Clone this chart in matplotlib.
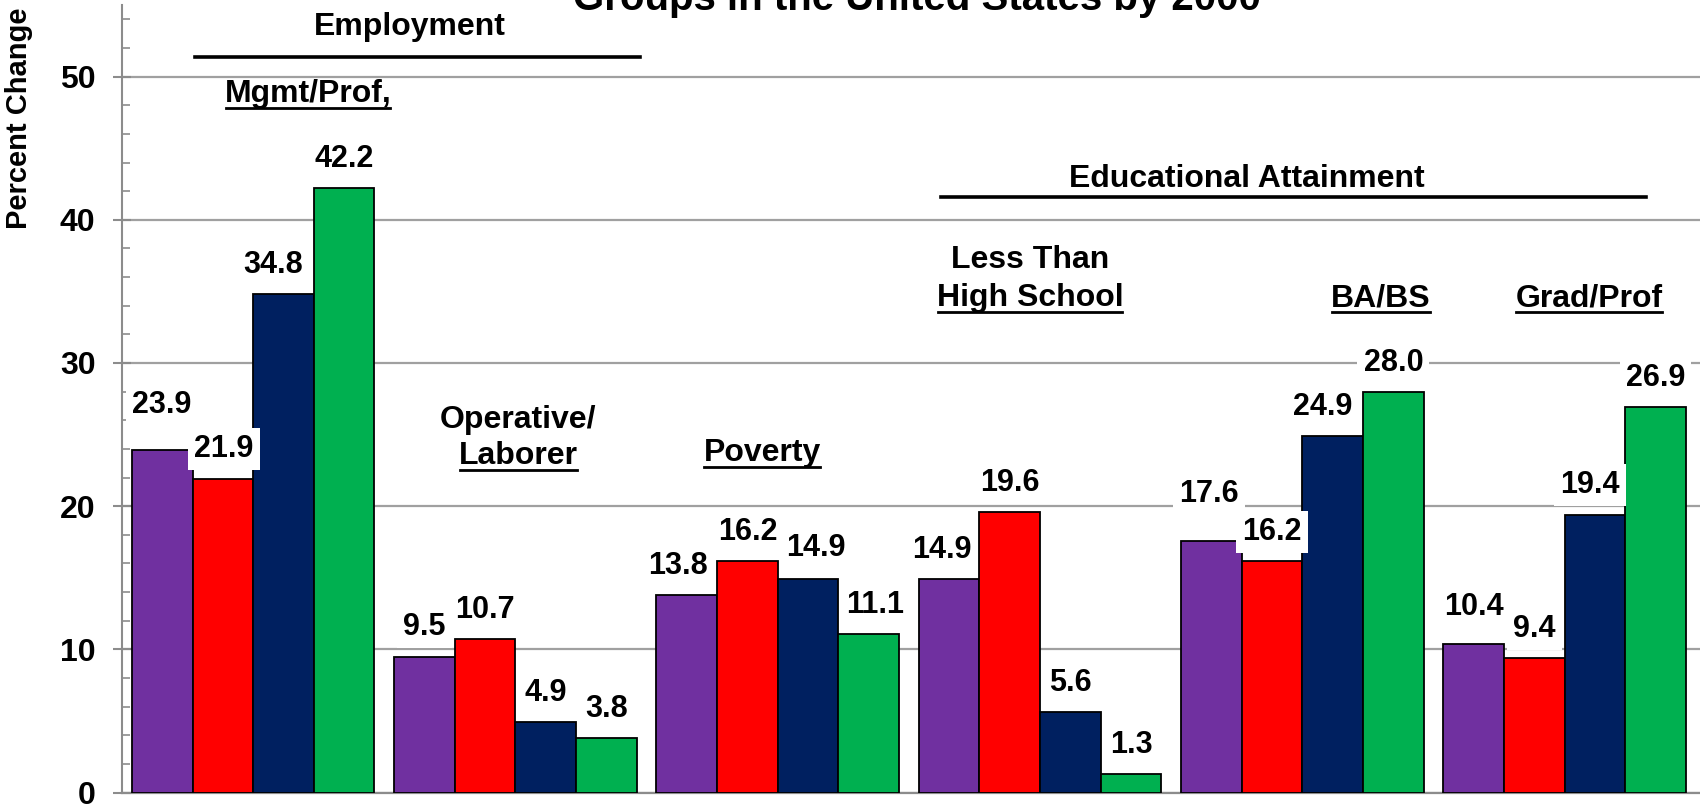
import matplotlib
matplotlib.use("Agg")
import matplotlib.pyplot as plt
from matplotlib.lines import Line2D
from matplotlib.ticker import MultipleLocator
import numpy as np

plt.rcParams['font.family'] = ['Liberation Sans', 'DejaVu Sans']
plt.rcParams['font.weight'] = 'bold'

# ---- data ----
groups = ["Mgmt/Prof,", "Operative/Laborer", "Poverty",
          "Less Than High School", "BA/BS", "Grad/Prof"]
series_1 = [23.9, 9.5, 13.8, 14.9, 17.6, 10.4]
series_2 = [21.9, 10.7, 16.2, 19.6, 16.2, 9.4]
series_3 = [34.8, 4.9, 14.9, 5.6, 24.9, 19.4]
series_4 = [42.2, 3.8, 11.1, 1.3, 28.0, 26.9]
y_ticks = [0, 10, 20, 30, 40, 50]
title_text = "Groups in the United States by 2000"
y_label = "Percent Change"

series = [series_1, series_2, series_3, series_4]
colors = ["#7030A0", "#FF0000", "#002060", "#00B050"]

# label offsets in pixels (dx, dy) for specific labels; default (0, 29)
label_offsets = {
    (0, 0): (0, 45), (0, 1): (1, 30), (0, 2): (-10, 29),
    (1, 0): (0, 30),
    (2, 0): (-9, 29), (2, 2): (8, 31), (2, 3): (6, 29),
    (3, 0): (-7, 29),
    (4, 0): (-2, 47), (4, 2): (-10, 29),
    (5, 0): (0, 37), (5, 2): (-5, 30),
}

fig = plt.figure(figsize=(17, 8.07), dpi=100)
ax = fig.add_axes([122 / 1700, 14.4 / 807, 1578 / 1700, 787.6 / 807])

x = np.arange(len(groups))
w = 0.2312
for i, (vals, c) in enumerate(zip(series, colors)):
    pos = x + (i - 1.5) * w
    ax.bar(pos, vals, width=w, color=c, edgecolor="black", linewidth=1.3, zorder=3)
    for g, (p, v) in enumerate(zip(pos, vals)):
        dx, dy = label_offsets.get((g, i), (0, 29))
        ax.annotate(f"{v:.1f}", xy=(p, v), xytext=(dx, dy), textcoords="offset pixels",
                    ha="center", va="center", fontsize=22, fontweight="bold", zorder=5,
                    bbox=dict(boxstyle="square,pad=0.2", fc="white", ec="none"))

ax.set_xlim(-0.5, -0.5 + 1578 / 262.3)
ax.set_ylim(0, 55)
ax.set_yticks(y_ticks)
ax.set_yticklabels([str(t) for t in y_ticks])
ax.yaxis.set_minor_locator(MultipleLocator(2))
ax.set_xticks([])
ax.tick_params(axis="y", which="major", direction="inout", length=13, width=1.5,
               color="#8C8C8C", labelsize=23, pad=12.5)
ax.tick_params(axis="y", which="minor", direction="in", length=6, width=1.2, color="#8C8C8C")
for lbl in ax.get_yticklabels():
    lbl.set_fontweight("bold")
ax.grid(axis="y", which="major", color="#A0A0A0", linewidth=1.6, zorder=0)
ax.set_axisbelow(True)
for s in ["top", "right"]:
    ax.spines[s].set_visible(False)
ax.spines["left"].set_color("#8C8C8C")
ax.spines["left"].set_linewidth(1.5)
ax.spines["bottom"].set_color("#8C8C8C")
ax.spines["bottom"].set_linewidth(1.6)

# title (cropped at top in the reference)
fig.text(917 / 1700, 1 - 10 / 807, title_text, ha="center", va="baseline",
         fontsize=29, fontweight="bold")
fig.text(19.5 / 1700, 1 - 118 / 807, y_label, rotation=90, ha="center", va="center",
         fontsize=21, fontweight="bold")

# heading annotations
fs = 23
ax.text(0.598, 53.45, "Employment", ha="center", va="center", fontsize=fs, fontweight="bold")
ax.plot([-0.222, 1.475], [51.4, 51.4], color="black", lw=2.6, clip_on=False)
ax.text(3.789, 42.86, "Educational Attainment", ha="center", va="center", fontsize=fs, fontweight="bold")
ax.plot([2.622, 5.31], [41.57, 41.57], color="black", lw=2.6, clip_on=False)

underlined = []
underlined.append(ax.text(0.209, 48.76, "Mgmt/Prof,", ha="center", va="center", fontsize=fs, fontweight="bold"))
ax.text(1.010, 26.05, "Operative/", ha="center", va="center", fontsize=fs, fontweight="bold")
underlined.append(ax.text(1.010, 23.48, "Laborer", ha="center", va="center", fontsize=fs, fontweight="bold"))
underlined.append(ax.text(1.940, 23.70, "Poverty", ha="center", va="center", fontsize=fs, fontweight="bold"))
ax.text(2.962, 37.18, "Less Than", ha="center", va="center", fontsize=fs, fontweight="bold")
underlined.append(ax.text(2.962, 34.53, "High School", ha="center", va="center", fontsize=fs, fontweight="bold"))
underlined.append(ax.text(4.30, 34.53, "BA/BS", ha="center", va="center", fontsize=fs, fontweight="bold"))
underlined.append(ax.text(5.093, 34.53, "Grad/Prof", ha="center", va="center", fontsize=fs, fontweight="bold"))

fig.canvas.draw()
r = fig.canvas.get_renderer()
inv = fig.transFigure.inverted()
for t in underlined:
    bb = t.get_window_extent(renderer=r)
    (x0, y0), (x1, _) = inv.transform([(bb.x0 + 1, bb.y0 + 1), (bb.x1 - 1, bb.y0 + 1)])
    fig.add_artist(Line2D([x0, x1], [y0, y0], color="black", lw=2.0, transform=fig.transFigure))

fig.savefig("out.png", dpi=100)
